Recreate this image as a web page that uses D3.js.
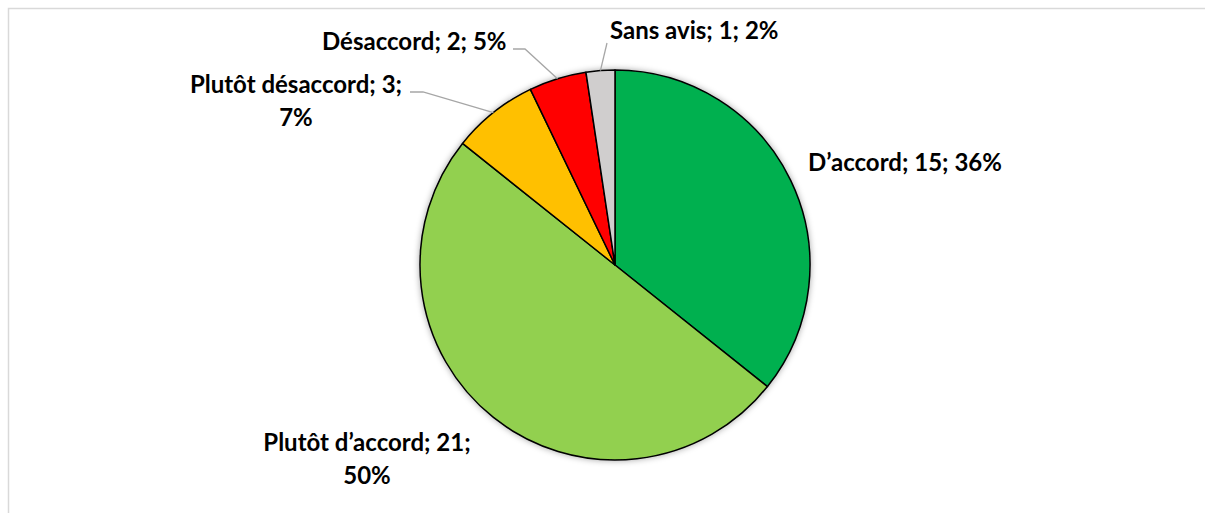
<!DOCTYPE html>
<html>
<head>
<meta charset="utf-8">
<script src="https://cdn.jsdelivr.net/npm/d3@7"></script>
<style>
  html, body { margin: 0; padding: 0; background: #fff; }
  svg { display: block; }
</style>
</head>
<body>
<svg id="chart" width="1205" height="513"></svg>
<script>
// ---- data ----
const categories = ["D’accord", "Plutôt d’accord", "Plutôt désaccord", "Désaccord", "Sans avis"];
const counts = [15, 21, 3, 2, 1];
const percentLabels = ["36%", "50%", "7%", "5%", "2%"];
const colors = ["#00B050", "#92D050", "#FFC000", "#FF0000", "#D0CECE"];

// ---- layout (label placement, not data) ----
const W = 1205, H = 513;
const cx = 615, cy = 265, R = 195;
const fontSize = 24;
const labelLayout = [
  { wrap: false, x: 808, y: 163, anchor: "start", leader: false },
  { wrap: true, x: 367, y: 443, anchor: "middle", leader: false },
  { wrap: true, x: 296, y: 85, anchor: "middle", leader: true, lx: 410, ly: 92, hx: 423 },
  { wrap: false, x: 322, y: 42, anchor: "start", leader: true, lx: 513, ly: 49, hx: 525 },
  { wrap: false, x: 610, y: 31, anchor: "start", leader: true, lx: 607, ly: 43, hx: 607 }
];

const svg = d3.select("#chart");

// border
svg.append("rect")
  .attr("x", 8.5).attr("y", 8.5)
  .attr("width", W).attr("height", H)
  .attr("fill", "none")
  .attr("stroke", "#D9D9D9")
  .attr("stroke-width", 1.5);

// shadow filter
const defs = svg.append("defs");
const f = defs.append("filter").attr("id", "glow")
  .attr("x", "-10%").attr("y", "-10%").attr("width", "120%").attr("height", "120%");
f.append("feDropShadow").attr("dx", 0).attr("dy", 0)
  .attr("stdDeviation", 3).attr("flood-color", "#000").attr("flood-opacity", 0.35);

const pie = d3.pie().sort(null).value(d => d)(counts);
const arc = d3.arc().innerRadius(0).outerRadius(R);

const g = svg.append("g").attr("transform", `translate(${cx},${cy})`);
g.append("g").attr("filter", "url(#glow)")
  .selectAll("path")
  .data(pie)
  .join("path")
  .attr("d", arc)
  .attr("fill", (d, i) => colors[i])
  .attr("stroke", "#000")
  .attr("stroke-width", 1.5)
  .attr("stroke-linejoin", "round");

// leader lines
pie.forEach((d, i) => {
  const L = labelLayout[i];
  if (!L.leader) return;
  const mid = (d.startAngle + d.endAngle) / 2;
  const ex = cx + R * Math.sin(mid);
  const ey = cy - R * Math.cos(mid);
  svg.append("polyline")
    .attr("points", `${L.lx},${L.ly} ${L.hx},${L.ly} ${ex},${ey}`)
    .attr("fill", "none")
    .attr("stroke", "#A6A6A6")
    .attr("stroke-width", 1.3);
});

// labels
pie.forEach((d, i) => {
  const L = labelLayout[i];
  const lineTexts = L.wrap
    ? [`${categories[i]}; ${counts[i]};`, percentLabels[i]]
    : [`${categories[i]}; ${counts[i]}; ${percentLabels[i]}`];
  const t = svg.append("text")
    .attr("font-family", "Lato, 'Open Sans', sans-serif")
    .attr("font-weight", "bold")
    .attr("font-size", fontSize)
    .attr("fill", "#000")
    .attr("text-anchor", L.anchor);
  lineTexts.forEach((s, k) => {
    t.append("tspan")
      .attr("x", L.x)
      .attr("y", L.y + k * 33)
      .attr("dy", "0.35em")
      .text(s);
  });
});
</script>
</body>
</html>
